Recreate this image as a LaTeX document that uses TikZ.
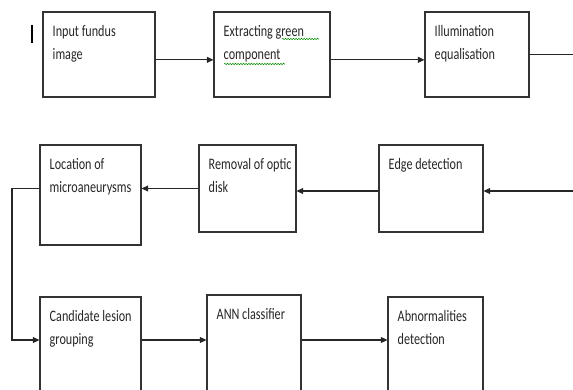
\documentclass[tikz,border=0pt]{standalone}
\usepackage{fontspec}
\setmainfont[FakeStretch=0.76]{Carlito}
\usetikzlibrary{arrows.meta,positioning,calc,decorations.pathmorphing}
\tikzset{
  stagetext/.style={font=\fontsize{12}{17.25}\selectfont, text=black!85, align=left,
                    inner sep=0pt, anchor=north west, xshift=7.5pt, yshift=-10.5pt},
  stage/.style={rectangle, draw=black!80, line width=0.8pt, inner sep=0pt,
                label={[stagetext]north west:#1}},
  flow/.style={-{Triangle[length=5pt,width=4.5pt]}, line width=0.8pt, black!85},
  wire/.style={line width=0.8pt, black!85},
  squiggle/.style={green!55!black, line width=0.4pt, decorate,
                   decoration={snake, amplitude=0.5pt, segment length=2pt}},
}

\begin{document}
\begin{tikzpicture}[x=0.75pt,y=-0.75pt]
  \useasboundingbox (0,0) rectangle (573,389);
  \clip (0,0) rectangle (573,389);

  % first row
  \node[stage={Input fundus\\image}, minimum width=84pt, minimum height=63.75pt] (inp) at (99,54.5) {};
  \node[stage={Extracting green\\component}, minimum width=87pt, minimum height=63.75pt] (green) at (272,54.5) {};
  \node[stage={Illumination\\equalisation}, minimum width=78pt, minimum height=63.75pt] (illum) at (477,54.5) {};
  \coordinate (rowend) at (573,54.5);
  \draw[line width=1.2pt] (32,25) -- (32,43);
  \draw[squiggle] (282,39) -- (319,39);
  \draw[squiggle] (224,64) -- (285,64);

  % second row
  \node[stage={Location of\\microaneurysms}, minimum width=75.75pt, minimum height=75pt] (loc) at (90.5,195) {};
  \node[stage={Removal of optic\\disk}, minimum width=72.75pt, minimum height=65.25pt] (optic) at (247.5,188.5) {};
  \node[stage={Edge detection}, minimum width=78pt, minimum height=65.25pt] (edge) at (431,188.5) {};
  \coordinate (rowin) at (573,191);

  % third row
  \node[stage={Candidate lesion\\grouping}, minimum width=75.75pt, minimum height=90pt] (cand) at (90.5,357) {};
  \node[stage={ANN classifier}, minimum width=70.5pt, minimum height=90pt] (ann) at (254,355) {};
  \node[stage={Abnormalities\\detection}, minimum width=71.25pt, minimum height=90pt] (abn) at (435.5,357) {};
  \coordinate (bend) at (12,340);

  % connectors
  \draw[flow] ([yshift=-4pt]inp.east) -- ([yshift=-4pt]inp.east -| green.west);
  \draw[flow] ([yshift=-4pt]green.east) -- ([yshift=-4pt]green.east -| illum.west);
  \draw[wire] (illum.east) -- (rowend);
  \draw[flow] (rowin) -- (rowin -| edge.east);
  \draw[flow] (rowin -| edge.west) -- (rowin -| optic.east);
  \draw[flow] (optic.west) -- (optic.west -| loc.east);
  \draw[flow] (loc.west |- optic.west) -| (bend) -- (bend -| cand.west);
  \draw[flow] (bend -| cand.east) -- (bend -| ann.west);
  \draw[flow] (bend -| ann.east) -- (bend -| abn.west);
\end{tikzpicture}
\end{document}
